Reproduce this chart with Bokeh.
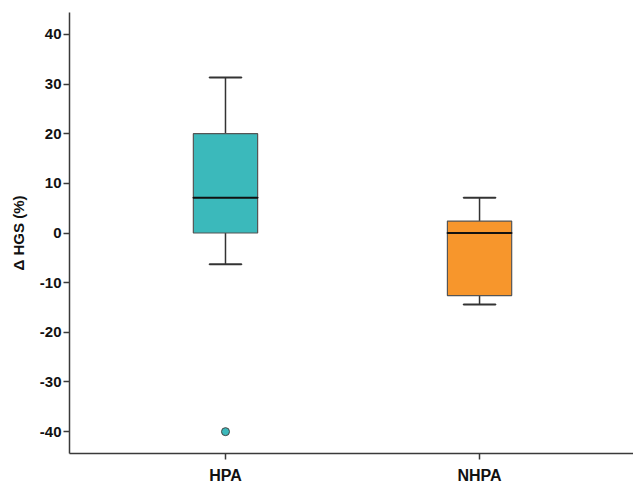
import numpy as np
from bokeh.plotting import figure
from bokeh.models import Range1d, FixedTicker, ColumnDataSource
from bokeh.embed import file_html
from bokeh.resources import INLINE

groups = ["HPA", "NHPA"]
q1 = [0.0, -12.6]
median = [7.1, 0.0]
q3 = [20.0, 2.4]
whisker_low = [-6.3, -14.4]
whisker_high = [31.3, 7.1]
outlier_group = ["HPA"]
outlier_value = [-40.0]
y_ticks = [-40, -30, -20, -10, 0, 10, 20, 30, 40]
y_tick_labels = ["-40", "-30", "-20", "-10", "0", "10", "20", "30", "40"]
colors = ["#3bb9bb", "#f7962c"]

pos = list(range(1, len(groups) + 1))
gpos = {g: i for g, i in zip(groups, pos)}

FONT = "Liberation Sans"
AX = "#3a3a3a"

p = figure(width=633, height=488, output_backend="svg", toolbar_location=None,
           x_range=Range1d(0.386, 2.606), y_range=Range1d(-44.4, 44.4),
           min_border_left=69, min_border_right=0, min_border_top=12, min_border_bottom=35)
p.outline_line_color = None
p.xgrid.visible = False
p.ygrid.visible = False
p.background_fill_color = "white"
p.border_fill_color = "white"

src = ColumnDataSource(dict(x=pos, q1=q1, med=median, q3=q3, lo=whisker_low, hi=whisker_high,
                            color=colors))
bw = 0.253
cw = 0.126
# whiskers
p.segment(x0="x", y0="q3", x1="x", y1="hi", source=src, line_color="#333333", line_width=1.5)
p.segment(x0="x", y0="q1", x1="x", y1="lo", source=src, line_color="#333333", line_width=1.5)
p.rect(x="x", y="hi", width=cw, height=0.0001, source=src, line_color="#333333", line_width=2, fill_color=None)
p.rect(x="x", y="lo", width=cw, height=0.0001, source=src, line_color="#333333", line_width=2, fill_color=None)
# boxes
p.vbar(x="x", top="q3", bottom="q1", width=bw, source=src, fill_color="color",
       line_color="#555555", line_width=1.2)
# medians
p.rect(x="x", y="med", width=bw, height=0.0001, source=src, line_color="#111111", line_width=2.2, fill_color=None)
# outliers
p.scatter(x=[gpos[g] for g in outlier_group], y=outlier_value, size=8, fill_color=colors[0],
          line_color="#444444", line_width=1)

for ax in (p.xaxis[0], p.yaxis[0]):
    ax.axis_line_color = AX
    ax.axis_line_width = 1.5
    ax.major_tick_line_color = AX
    ax.major_tick_line_width = 1.5
    ax.major_tick_out = 6
    ax.major_tick_in = 0
    ax.minor_tick_line_color = None
    ax.major_label_text_font = FONT
    ax.major_label_text_font_style = "bold"
    ax.major_label_text_color = "#111111"

p.yaxis[0].major_label_text_font_size = "15px"
p.yaxis[0].ticker = FixedTicker(ticks=y_ticks)
p.yaxis[0].major_label_overrides = {t: s for t, s in zip(y_ticks, y_tick_labels)}
p.yaxis[0].major_label_standoff = 2
p.yaxis[0].axis_label = "Δ HGS (%)"
p.yaxis[0].axis_label_text_font = FONT
p.yaxis[0].axis_label_text_font_style = "bold"
p.yaxis[0].axis_label_text_font_size = "15px"
p.yaxis[0].axis_label_text_color = "#111111"
p.yaxis[0].axis_label_standoff = 10

p.xaxis[0].major_label_text_font_size = "16px"
p.xaxis[0].ticker = FixedTicker(ticks=pos)
p.xaxis[0].major_label_overrides = {i: g for g, i in zip(groups, pos)}
p.xaxis[0].major_label_standoff = 7

open("out.html", "w").write(file_html(p, INLINE))
